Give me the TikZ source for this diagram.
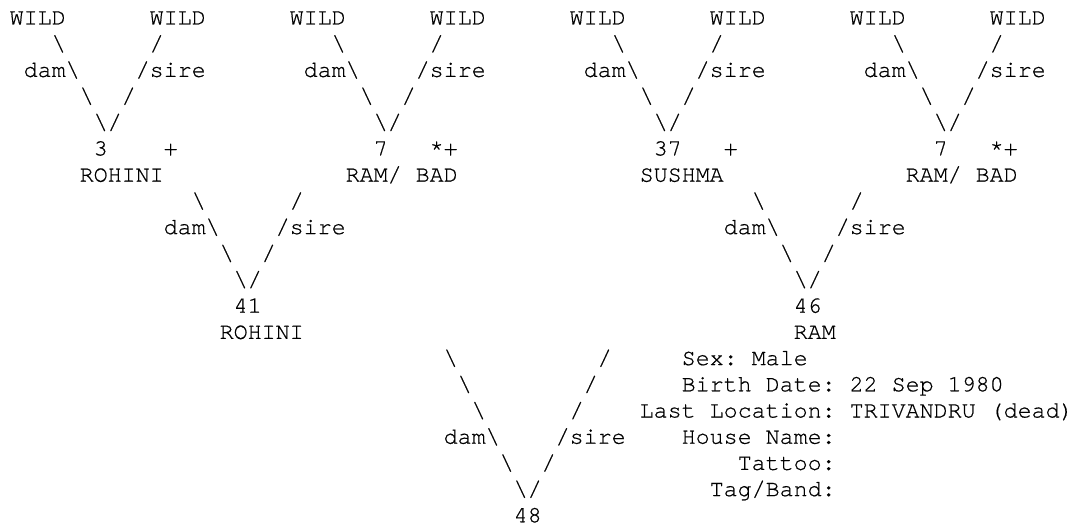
\documentclass[tikz,border=0pt]{standalone}
\usepackage{fontspec}
\newfontfamily\cour[FakeBold=0.6]{TeX Gyre Cursor}
\newcommand\bs{\textbackslash}
\newcommand\putat[4]{\node[ch] (#1) at ({9.5+14*#2},{-(24.5+26.2*(#3-1))}) {#4};}
\begin{document}
\begin{tikzpicture}[x=1pt,y=1pt,
  ch/.style={anchor=base west, inner sep=0pt, text=black,
    font=\cour\fontsize{23.33}{26}\selectfont\frenchspacing}]
\useasboundingbox[fill=white] (0,0) rectangle (1077,-532);
% row 1
\putat{wa}{0}{1}{WILD}\putat{wb}{10}{1}{WILD}\putat{wc}{20}{1}{WILD}\putat{wd}{30}{1}{WILD}
\putat{we}{40}{1}{WILD}\putat{wf}{50}{1}{WILD}\putat{wg}{60}{1}{WILD}\putat{wh}{70}{1}{WILD}
% row 2
\putat{ba2}{3}{2}{\bs}\putat{bb2}{23}{2}{\bs}\putat{bc2}{43}{2}{\bs}\putat{bd2}{63}{2}{\bs}
\putat{sa2}{10}{2}{/}\putat{sb2}{30}{2}{/}\putat{sc2}{50}{2}{/}\putat{sd2}{70}{2}{/}
% row 3
\putat{da3}{1}{3}{dam\bs}\putat{db3}{21}{3}{dam\bs}\putat{dc3}{41}{3}{dam\bs}\putat{dd3}{61}{3}{dam\bs}
\putat{ra3}{9}{3}{/sire}\putat{rb3}{29}{3}{/sire}\putat{rc3}{49}{3}{/sire}\putat{rd3}{69}{3}{/sire}
% row 4
\putat{ba4}{5}{4}{\bs}\putat{bb4}{25}{4}{\bs}\putat{bc4}{45}{4}{\bs}\putat{bd4}{65}{4}{\bs}
\putat{sa4}{8}{4}{/}\putat{sb4}{28}{4}{/}\putat{sc4}{48}{4}{/}\putat{sd4}{68}{4}{/}
% row 5
\putat{va5}{6}{5}{\bs/}\putat{vb5}{26}{5}{\bs/}\putat{vc5}{46}{5}{\bs/}\putat{vd5}{66}{5}{\bs/}
% row 6
\putat{na}{6}{6}{3}\putat{pa}{11}{6}{+}
\putat{nb}{26}{6}{7}\putat{pb}{30}{6}{*+}
\putat{nc}{46}{6}{37}\putat{pc}{51}{6}{+}
\putat{nd}{66}{6}{7}\putat{pd}{70}{6}{*+}
% row 7
\putat{ma}{5}{7}{ROHINI}\putat{mb}{24}{7}{RAM/ BAD}\putat{mc}{45}{7}{SUSHMA}\putat{md}{64}{7}{RAM/ BAD}
% row 8
\putat{bA8}{13}{8}{\bs}\putat{bB8}{53}{8}{\bs}\putat{sA8}{20}{8}{/}\putat{sB8}{60}{8}{/}
% row 9
\putat{dA9}{11}{9}{dam\bs}\putat{dB9}{51}{9}{dam\bs}\putat{rA9}{19}{9}{/sire}\putat{rB9}{59}{9}{/sire}
% row 10
\putat{bA10}{15}{10}{\bs}\putat{bB10}{55}{10}{\bs}\putat{sA10}{18}{10}{/}\putat{sB10}{58}{10}{/}
% row 11
\putat{vA11}{16}{11}{\bs/}\putat{vB11}{56}{11}{\bs/}
% row 12-13
\putat{nA}{16}{12}{41}\putat{nB}{56}{12}{46}
\putat{mA}{15}{13}{ROHINI}\putat{mB}{56}{13}{RAM}
% rows 14-20
\putat{b14}{31}{14}{\bs}\putat{s14}{42}{14}{/}\putat{i14}{48}{14}{Sex: Male}
\putat{b15}{32}{15}{\bs}\putat{s15}{41}{15}{/}\putat{i15}{48}{15}{Birth Date: 22 Sep 1980}
\putat{b16}{33}{16}{\bs}\putat{s16}{40}{16}{/}\putat{i16}{45}{16}{Last Location: TRIVANDRU (dead)}
\putat{d17}{31}{17}{dam\bs}\putat{r17}{39}{17}{/sire}\putat{i17}{48}{17}{House Name:}
\putat{b18}{35}{18}{\bs}\putat{s18}{38}{18}{/}\putat{i18}{52}{18}{Tattoo:}
\putat{v19}{36}{19}{\bs/}\putat{i19}{50}{19}{Tag/Band:}
\putat{n20}{36}{20}{48}
\end{tikzpicture}
\end{document}
